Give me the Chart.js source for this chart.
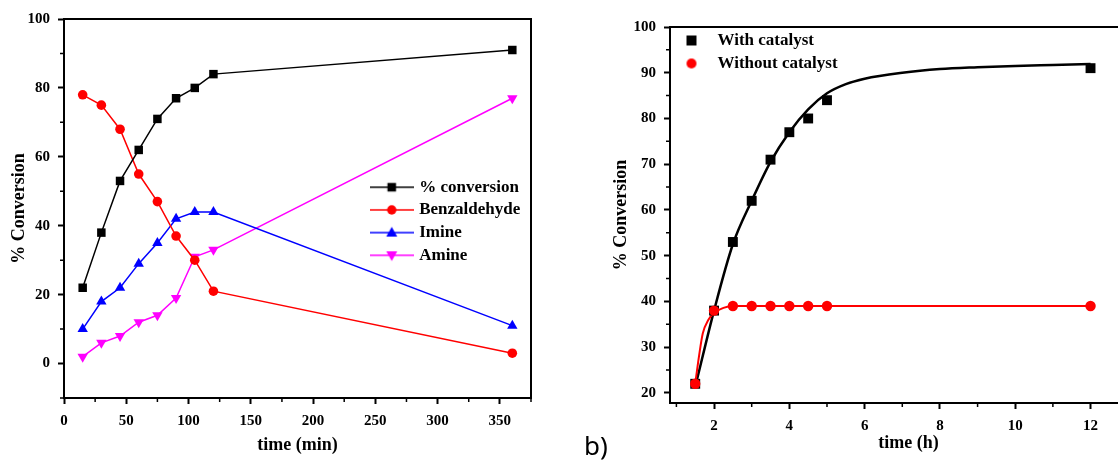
<!doctype html>
<html>
<head>
<meta charset="utf-8" />
<title>% Conversion vs time</title>
<script src="https://cdn.jsdelivr.net/npm/chart.js@4.4.1/dist/chart.umd.min.js"></script>
<style>
	html, body { margin: 0; padding: 0; background: #fff; overflow: hidden; }
	body { width: 1118px; height: 460px; position: relative; }
	canvas { position: absolute; top: 0; }
	#left { left: 0; }
	#right { left: 590px; }
	#tag {
		position: absolute; left: 584px; top: 432px;
		font: 26px "Noto Sans", "Open Sans", sans-serif; line-height: 1; color: #000;
	}
</style>
</head>
<body>
<canvas id="left" width="560" height="460"></canvas>
<canvas id="right" width="570" height="460"></canvas>
<div id="tag">b)</div>
<script>
// left panel: product distribution vs time (min)
const timeMin = [15, 30, 45, 60, 75, 90, 105, 120, 360];
const conversion = [22, 38, 53, 62, 71, 77, 80, 84, 91];
const benzaldehyde = [78, 75, 68, 55, 47, 37, 30, 21, 3];
const imine = [10, 18, 22, 29, 35, 42, 44, 44, 11];
const amine = [2, 6, 8, 12, 14, 19, 31, 33, 77];

// right panel: conversion with / without catalyst vs time (h)
const timeH = [1.5, 2, 2.5, 3, 3.5, 4, 4.5, 5, 12];
const withCatalyst = [22, 38, 53, 62, 71, 77, 80, 84, 91];
const withoutCatalyst = [22, 38, 39, 39, 39, 39, 39, 39, 39];

// fitted curves
const withFitT = [1.52, 2, 2.5, 3, 3.5, 4, 4.5, 5, 5.5, 6, 7, 8, 9, 10, 11, 12];
const withFitY = [22, 38, 52.5, 62, 70.5, 77, 82, 85.5, 87.5, 88.7, 90, 90.8, 91.2, 91.5, 91.7, 91.9];
const withoutFitT = [1.5, 1.6, 1.7, 1.85, 2, 2.25, 2.5, 3, 12];
const withoutFitY = [22, 28, 33, 36, 37.5, 38.6, 39, 39, 39];

// tick labels
const leftXTicks = [0, 50, 100, 150, 200, 250, 300, 350];
const leftYTicks = [0, 20, 40, 60, 80, 100];
const leftXMinor = [25, 75, 125, 175, 225, 275, 325, 375];
const leftYMinor = [-10, 10, 30, 50, 70, 90];
const rightXTicks = [2, 4, 6, 8, 10, 12];
const rightYTicks = [20, 30, 40, 50, 60, 70, 80, 90, 100];
const rightXMinor = [1, 3, 5, 7, 9, 11, 13];
const rightYMinor = [25, 35, 45, 55, 65, 75, 85, 95];

const serif = "'Liberation Serif', 'Times New Roman', serif";
const pts = (xs, ys) => xs.map((x, i) => ({ x: x, y: ys[i] }));

function marker(ctx, style, x, y, r) {
	ctx.beginPath();
	if (style === "rect") {
		ctx.rect(x - r, y - r, 2 * r, 2 * r);
	} else if (style === "circle") {
		ctx.arc(x, y, r, 0, Math.PI * 2);
	} else if (style === "up") {
		ctx.moveTo(x, y - r); ctx.lineTo(x + r * 0.95, y + r * 0.7); ctx.lineTo(x - r * 0.95, y + r * 0.7);
	} else {
		ctx.moveTo(x, y + r); ctx.lineTo(x + r * 0.95, y - r * 0.7); ctx.lineTo(x - r * 0.95, y - r * 0.7);
	}
	ctx.closePath();
	ctx.fill();
}

function icon(color, style, w, h, r, withLine) {
	const c = document.createElement("canvas");
	c.width = w; c.height = h;
	const ctx = c.getContext("2d");
	ctx.fillStyle = color; ctx.strokeStyle = color;
	if (withLine) {
		ctx.lineWidth = 1.5;
		ctx.beginPath(); ctx.moveTo(0, h / 2); ctx.lineTo(w, h / 2); ctx.stroke();
	}
	marker(ctx, style, w / 2, h / 2, r);
	return c;
}

// top/right frame and minor ticks
const frame = {
	id: "frame",
	afterDraw(chart, args, opts) {
		const { ctx, chartArea: a, scales } = chart;
		ctx.save();
		ctx.strokeStyle = "#000";
		ctx.lineWidth = 2;
		ctx.beginPath();
		ctx.moveTo(a.left - 1, a.top);
		ctx.lineTo(a.right, a.top);
		ctx.lineTo(a.right, a.bottom + 1);
		ctx.stroke();
		ctx.lineWidth = 1.5;
		ctx.beginPath();
		opts.xMinor.forEach((v) => {
			const px = scales.x.getPixelForValue(v);
			ctx.moveTo(px, a.bottom); ctx.lineTo(px, a.bottom + 4);
		});
		opts.yMinor.forEach((v) => {
			const py = scales.y.getPixelForValue(v);
			ctx.moveTo(a.left, py); ctx.lineTo(a.left - 4, py);
		});
		ctx.stroke();
		ctx.restore();
	},
};

// move the legend box inside the plot
const placeLegend = {
	id: "placeLegend",
	afterLayout(chart, args, opts) {
		const lg = chart.legend;
		if (!lg) return;
		lg.left = opts.x; lg.top = opts.y;
		lg.right = opts.x + lg.width; lg.bottom = opts.y + lg.height;
	},
};

function axes(o) {
	const tickFont = { family: serif, weight: "bold", size: 15 };
	const titleFont = { family: serif, weight: "bold", size: 18 };
	const grid = { drawOnChartArea: false, drawTicks: true, tickLength: 6, tickWidth: 2, tickColor: "#000" };
	const border = { display: true, color: "#000", width: 2 };
	return {
		x: {
			type: "linear", min: o.xmin, max: o.xmax,
			afterBuildTicks: (s) => { s.ticks = o.xticks.map((v) => ({ value: v })); },
			afterFit: (s) => { s.height = o.xh; },
			ticks: { font: tickFont, color: "#000", padding: 8, maxRotation: 0, autoSkip: false },
			grid: grid, border: border,
			title: { display: true, text: o.xtitle, font: titleFont, color: "#000", padding: { top: 0, bottom: o.xtp } },
		},
		y: {
			type: "linear", min: o.ymin, max: o.ymax,
			afterBuildTicks: (s) => { s.ticks = o.yticks.map((v) => ({ value: v })); },
			afterFit: (s) => { s.width = o.yw; },
			ticks: { font: tickFont, color: "#000", padding: 8 },
			grid: grid, border: border,
			title: { display: true, text: "% Conversion", font: titleFont, color: "#000", padding: { top: o.ytp, bottom: 0 } },
		},
	};
}

function legendOpts(items, boxW, pad, size) {
	return {
		display: true,
		position: "chartArea",
		align: "start",
		labels: {
			usePointStyle: true,
			pointStyleWidth: boxW,
			boxHeight: size,
			padding: pad,
			color: "#000",
			font: { family: serif, weight: "bold", size: size },
			generateLabels: () => items.map((it, i) => ({
				text: it.text, pointStyle: it.icon, fontColor: "#000",
				hidden: false, datasetIndex: i, lineWidth: 0,
				strokeStyle: "transparent", fillStyle: "transparent",
			})),
		},
	};
}

function series(label, xs, ys, color, style, r, rot) {
	return {
		label: label, data: pts(xs, ys), showLine: true,
		borderColor: color, backgroundColor: color, borderWidth: 1.5,
		pointStyle: style, pointRadius: r, pointRotation: rot || 0,
		pointBorderWidth: 0, pointBackgroundColor: color,
	};
}

new Chart(document.getElementById("left"), {
	type: "scatter",
	data: {
		datasets: [
			series("% conversion", timeMin, conversion, "#000000", "rect", 6),
			series("Benzaldehyde", timeMin, benzaldehyde, "#ff0000", "circle", 4.8),
			series("Imine", timeMin, imine, "#0000ff", "triangle", 6),
			series("Amine", timeMin, amine, "#ff00ff", "triangle", 6, 180),
		],
	},
	options: {
		responsive: false, animation: false,
		layout: { padding: { left: 0, top: 19, right: 29, bottom: 0 } },
		scales: axes({
			xmin: 0, xmax: 375, xticks: leftXTicks, xh: 62, xtitle: "time (min)", xtp: 4,
			ymin: -10, ymax: 100, yticks: leftYTicks, yw: 64, ytp: 9,
		}),
		plugins: {
			tooltip: { enabled: false },
			frame: { xMinor: leftXMinor, yMinor: leftYMinor },
			placeLegend: { x: 367, y: 173 },
			legend: legendOpts([
				{ text: "% conversion", icon: icon("#000000", "rect", 44, 14, 4.3, true) },
				{ text: "Benzaldehyde", icon: icon("#ff0000", "circle", 44, 14, 4.7, true) },
				{ text: "Imine", icon: icon("#0000ff", "up", 44, 14, 5.8, true) },
				{ text: "Amine", icon: icon("#ff00ff", "down", 44, 14, 5.8, true) },
			], 38, 5.7, 17),
		},
	},
	plugins: [frame, placeLegend],
});

new Chart(document.getElementById("right"), {
	type: "scatter",
	data: {
		datasets: [
			{ label: "Without catalyst", data: pts(timeH, withoutCatalyst), showLine: false,
				pointStyle: "circle", pointRadius: 5.2, pointBorderWidth: 0,
				pointBackgroundColor: "#ff0000", backgroundColor: "#ff0000", order: 0 },
			{ label: "With catalyst", data: pts(timeH, withCatalyst), showLine: false,
				pointStyle: "rect", pointRadius: 7, pointBorderWidth: 0,
				pointBackgroundColor: "#000000", backgroundColor: "#000000", order: 1 },
			{ label: "Without fit", data: pts(withoutFitT, withoutFitY), showLine: true,
				borderColor: "#ff0000", borderWidth: 2, pointRadius: 0,
				cubicInterpolationMode: "monotone", order: 2 },
			{ label: "With fit", data: pts(withFitT, withFitY), showLine: true,
				borderColor: "#000000", borderWidth: 2.5, pointRadius: 0,
				cubicInterpolationMode: "monotone", order: 3 },
		],
	},
	options: {
		responsive: false, animation: false,
		layout: { padding: { left: 0, top: 27, right: 13, bottom: 0 } },
		scales: axes({
			xmin: 0.83, xmax: 13.5, xticks: rightXTicks, xh: 57, xtitle: "time (h)", xtp: 6,
			ymin: 17.8, ymax: 100, yticks: rightYTicks, yw: 80, ytp: 21,
		}),
		plugins: {
			tooltip: { enabled: false },
			frame: { xMinor: rightXMinor, yMinor: rightYMinor },
			placeLegend: { x: 78, y: 26 },
			legend: legendOpts([
				{ text: "With catalyst", icon: icon("#000000", "rect", 14, 14, 5, false) },
				{ text: "Without catalyst", icon: icon("#ff0000", "circle", 14, 14, 5, false) },
			], 35, 6, 17),
		},
	},
	plugins: [frame, placeLegend],
});
</script>
</body>
</html>
